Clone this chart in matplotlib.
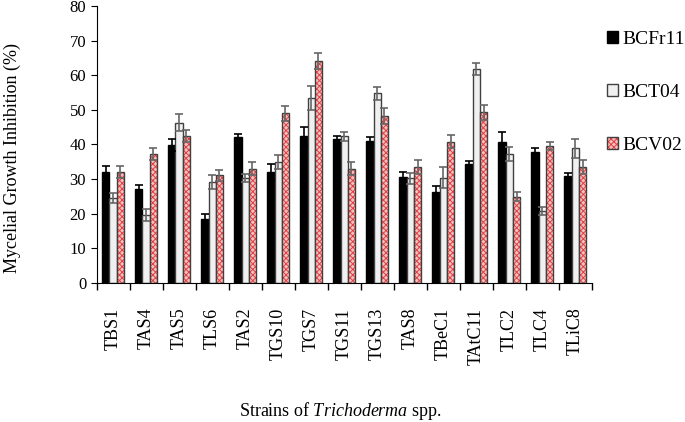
import matplotlib
matplotlib.use("Agg")
import matplotlib.pyplot as plt
import numpy as np

plt.rcParams['font.family'] = ['Liberation Serif', 'DejaVu Serif']
plt.rcParams['mathtext.fontset'] = 'custom'
plt.rcParams['mathtext.it'] = 'Liberation Serif:italic'
plt.rcParams['mathtext.rm'] = 'Liberation Serif'
plt.rcParams['hatch.linewidth'] = 0.7

strains = ["TBS1", "TAS4", "TAS5", "TLS6", "TAS2", "TGS10", "TGS7", "TGS11",
           "TGS13", "TAS8", "TBeC1", "TAtC11", "TLC2", "TLC4", "TLiC8"]

bcfr11 = [32.0, 27.0, 39.7, 18.5, 42.0, 32.0, 42.3, 41.5, 41.0, 30.5, 26.3, 34.2, 40.8, 37.8, 30.8]
bct04 = [24.5, 19.5, 46.3, 29.0, 30.3, 35.0, 53.3, 42.3, 54.7, 30.2, 30.4, 61.8, 37.2, 20.7, 38.8]
bcv02 = [32.0, 37.2, 42.5, 31.0, 33.0, 49.0, 64.2, 33.0, 48.2, 33.5, 40.8, 49.3, 24.9, 39.5, 33.5]

err_bcfr11 = [1.7, 1.3, 1.7, 1.5, 1.0, 2.3, 2.7, 1.0, 1.2, 1.5, 1.6, 1.0, 2.7, 1.1, 1.0]
err_bct04 = [1.5, 1.8, 2.5, 2.0, 1.2, 2.0, 3.5, 1.2, 2.0, 1.6, 3.0, 1.7, 2.0, 1.2, 2.7]
err_bcv02 = [1.7, 1.8, 1.7, 1.6, 2.0, 2.2, 2.3, 2.0, 2.2, 2.0, 2.0, 2.2, 1.2, 1.2, 2.0]

x = np.arange(len(strains))
w = 0.22

fig = plt.figure(figsize=(6.85, 4.22), dpi=100)
ax = fig.add_axes([0.141, 0.330, 0.723, 0.656])

ekw = dict(capsize=3, elinewidth=1.2, capthick=1.2)
ax.bar(x - w, bcfr11, w, color="black", edgecolor="black", linewidth=1,
       yerr=err_bcfr11, error_kw=dict(ecolor="black", **ekw), label="BCFr11")
ax.bar(x, bct04, w, color="#f0f0f0", edgecolor="#404040", linewidth=1,
       yerr=err_bct04, error_kw=dict(ecolor="#666666", **ekw), label="BCT04")
red = ax.bar(x + w, bcv02, w, color="#f6c0c0", edgecolor="#404040", linewidth=1,
             hatch="xxxxxx", yerr=err_bcv02,
             error_kw=dict(ecolor="#666666", **ekw), label="BCV02")
# hatch colour for the red bars
for p in red.patches:
    p._hatch_color = matplotlib.colors.to_rgba("#e04040")

ax.set_xlim(-0.5, len(strains) - 0.5)
ax.set_ylim(0, 80)
ax.set_yticks(range(0, 81, 10))
ax.set_xticks(x)
ax.set_xticklabels(strains, rotation=90, fontsize=13, va="top")
ax.set_xticks(np.arange(-0.5, len(strains)), minor=True)
ax.tick_params(axis="x", which="major", length=0, pad=18)
ax.tick_params(axis="x", which="minor", length=5, direction="out", width=1)
ax.tick_params(axis="y", labelsize=12, length=4, direction="out")

ax.spines["top"].set_visible(False)
ax.spines["right"].set_visible(False)

ax.set_ylabel("Mycelial Growth Inhibition (%)", fontsize=13)
ax.yaxis.set_label_coords(-0.152, 0.45)
fig.text(0.497, 0.015, "Strains of $\\it{Trichoderma}$ spp.", ha="center", fontsize=13)

leg = ax.legend(loc="upper left", bbox_to_anchor=(1.0, 0.965), frameon=False, fontsize=14,
                labelspacing=1.85, handlelength=0.55, handleheight=0.55, handletextpad=0.2,
                borderaxespad=0.4)
for h in leg.legend_handles[2:]:
    h._hatch_color = matplotlib.colors.to_rgba("#e04040")

fig.savefig("out.png", dpi=100)
